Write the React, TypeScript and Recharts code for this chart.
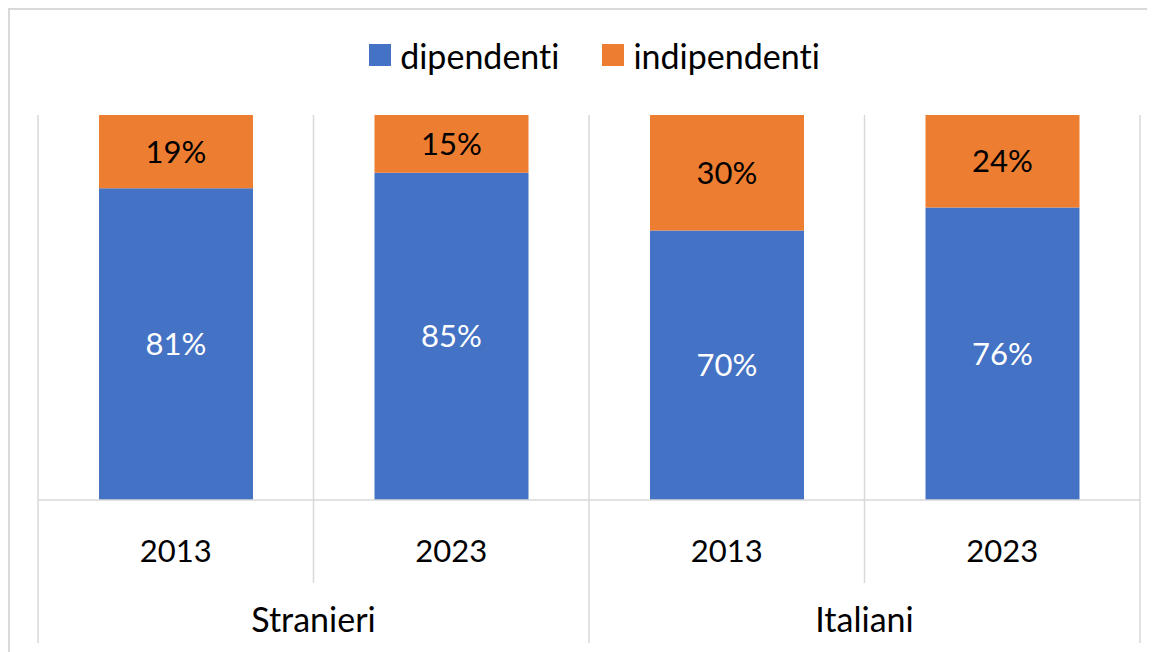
import { Bar, BarChart, CartesianGrid, LabelList, Legend, XAxis, YAxis } from 'recharts';

const categories = ['Stranieri 2013', 'Stranieri 2023', 'Italiani 2013', 'Italiani 2023'];
const years = ['2013', '2023', '2013', '2023'];
const groups = ['Stranieri', 'Stranieri', 'Italiani', 'Italiani'];
const dipendenti = [81, 85, 70, 76];
const indipendenti = [19, 15, 30, 24];

const data = categories.map((c, i) => ({
  cat: c,
  dipendenti: dipendenti[i],
  indipendenti: indipendenti[i],
}));

const FONT = 'Lato, Carlito, Calibri, sans-serif';
const GRID = '#d9d9d9';
const BLUE = '#4472C4';
const ORANGE = '#ED7D31';

const CategoryTick = (props: any) => {
  const { x, y, payload } = props;
  const half = payload?.offset ?? 137.6;
  const i = categories.indexOf(payload.value);
  const groupStart = i === 0 || groups[i] !== groups[i - 1];
  const last = i === categories.length - 1;
  return (
    <g style={{ fontVariantLigatures: 'none' }}>
      <line x1={x - half} x2={x - half} y1={y} y2={y + (groupStart ? 143 : 83)} stroke={GRID} strokeWidth={1.5} />
      {last && <line x1={x + half} x2={x + half} y1={y} y2={y + 143} stroke={GRID} strokeWidth={1.5} />}
      <text x={x} y={y + 62} textAnchor="middle" fontSize={31} fontFamily={FONT} fill="#000">
        {years[i]}
      </text>
      {groupStart && (
        <text x={x + half} y={y + 132} textAnchor="middle" fontSize={34} fontFamily={FONT} fill="#000">
          {groups[i]}
        </text>
      )}
    </g>
  );
};

const LegendContent = ({ payload }: any) => (
  <div
    style={{
      display: 'flex',
      justifyContent: 'center',
      alignItems: 'center',
      height: 40,
      paddingLeft: 24,
      fontFamily: FONT,
      fontSize: 34,
      color: '#000',
      fontVariantLigatures: 'none',
    }}
  >
    {(payload || []).map((p: any, i: number) => (
      <div key={p.value} style={{ display: 'flex', alignItems: 'center', marginLeft: i > 0 ? 43 : 0 }}>
        <span style={{ width: 22, height: 22, background: p.color, display: 'inline-block', marginRight: 9 }} />
        <span>{p.value}</span>
      </div>
    ))}
  </div>
);

// boundaries between the category bands
const gridCoords = ({ offset }: any) => {
  if (!offset) return [];
  const n = categories.length;
  return Array.from({ length: n + 1 }, (_, i) => offset.left + (offset.width * i) / n);
};

export default function App() {
  return (
    <div style={{ width: 1145, height: 642, borderLeft: `2px solid ${GRID}`, borderTop: `2px solid ${GRID}` }}>
      <BarChart
        width={1145}
        height={642}
        data={data}
        margin={{ top: 65, right: 15, bottom: 0, left: 28 }}
        barSize={154}
      >
        <CartesianGrid horizontal={false} vertical stroke={GRID} strokeWidth={1.5} verticalCoordinatesGenerator={gridCoords} />
        <XAxis
          dataKey="cat"
          height={152}
          tickSize={0}
          tickMargin={0}
          tickLine={false}
          axisLine={{ stroke: GRID, strokeWidth: 1.5 }}
          tick={<CategoryTick />}
          interval={0}
        />
        <YAxis hide domain={[0, 100]} />
        <Legend verticalAlign="top" content={<LegendContent />} wrapperStyle={{ top: 25, left: 0, width: '100%' }} />
        <Bar dataKey="dipendenti" stackId="a" fill={BLUE} isAnimationActive={false}>
          <LabelList
            dataKey="dipendenti"
            position="center"
            fill="#fff"
            fontSize={31}
            fontFamily={FONT}
            formatter={(v: any) => `${v}%`}
          />
        </Bar>
        <Bar dataKey="indipendenti" stackId="a" fill={ORANGE} isAnimationActive={false}>
          <LabelList
            dataKey="indipendenti"
            position="center"
            fill="#000"
            fontSize={31}
            fontFamily={FONT}
            formatter={(v: any) => `${v}%`}
          />
        </Bar>
      </BarChart>
    </div>
  );
}
